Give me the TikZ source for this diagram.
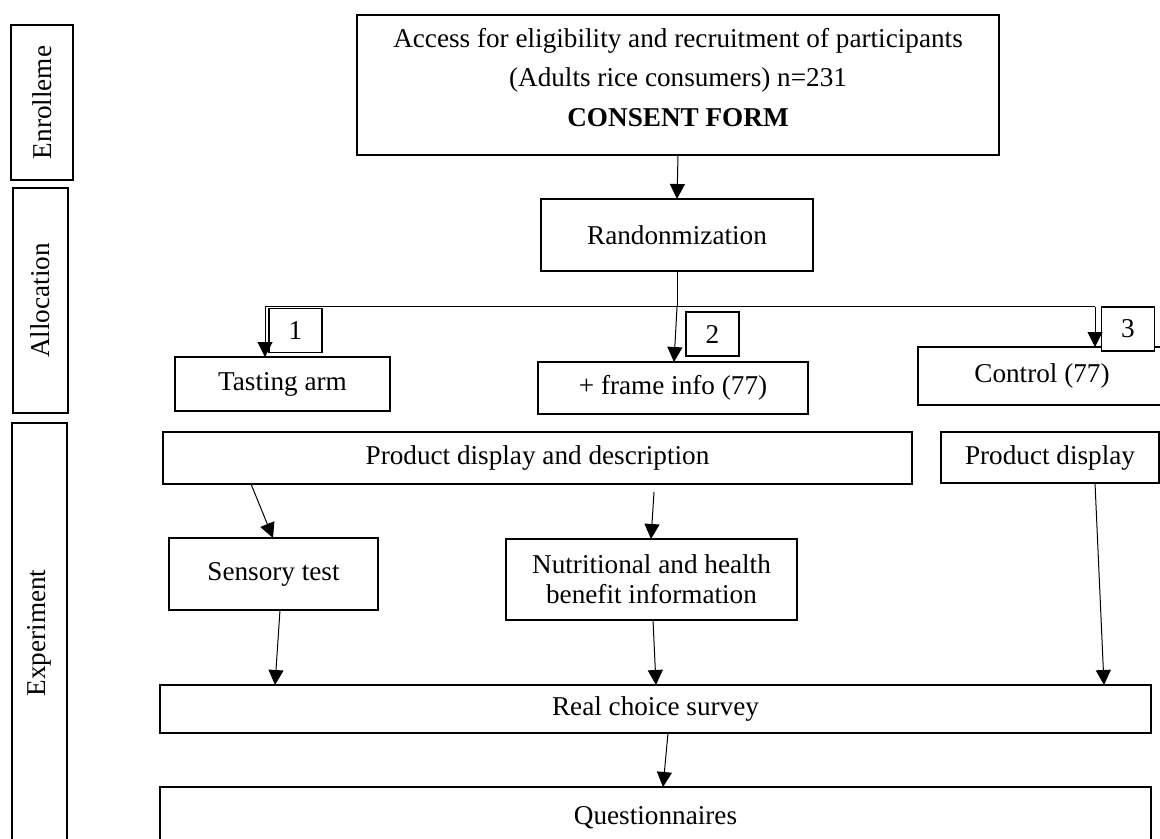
\documentclass[tikz,border=0pt]{standalone}
\usepackage{fontspec}
\setmainfont{Liberation Serif}
\usetikzlibrary{arrows.meta,calc}
\begin{document}
\begin{tikzpicture}[x=0.5pt,y=-0.5pt,
  every node/.style={font=\fontsize{13.6}{15}\selectfont, inner sep=0pt, outer sep=0pt},
  box/.style={draw, line width=1.2pt, align=center},
  numbox/.style={draw, fill=white, line width=0.65pt, minimum width=26.5pt, minimum height=22pt},
  side/.style={draw, line width=1.1pt, rotate=90},
  arr/.style={line width=0.5pt, -{Triangle[length=7.5pt,width=7.5pt]}},
  conn/.style={line width=0.5pt}]
\clip (0,0) rectangle (1160,839);
\fill[white] (0,0) rectangle (1160,839);

% phase labels
\node[side, minimum width=77.5pt, minimum height=31pt] (enr) at (42,102.5) {Enrolleme};
\node[side, minimum width=112.5pt, minimum height=27.5pt] (alo) at (40.5,300.5) {Allocation};
\node[side, minimum width=210pt, minimum height=27.5pt] (exp) at (39.5,633) {Experiment};

% enrolment
\node[box, line width=1.3pt, minimum width=321pt, minimum height=70pt] (top) at (678,85) {};
\node (t1) at (678,41) {Access for eligibility and recruitment of participants};
\node (t2) at (678,80) {(Adults rice consumers) n=231};
\node[font=\fontsize{13.6}{15}\selectfont\bfseries] (t3) at (678,118) {CONSENT FORM};

% allocation
\node[box, minimum width=136pt, minimum height=36pt] (rand) at (677,235) {Randonmization};
\node[box, minimum width=107.5pt, minimum height=27pt] (tast) at (282.5,384) {Tasting arm};
\node[box, minimum width=135pt, minimum height=26pt] (frame) at (673,388) {+ frame info (77)};
\node[box, minimum width=124pt, minimum height=29pt] (ctrl) at (1042,376) {Control (77)};
\node[numbox] (n1) at (295.5,330.5) {1};
\node[numbox] (n2) at (712.5,334) {2};
\node[numbox] (n3) at (1128,329) {3};

\coordinate (split) at (677,307);
\coordinate (L) at (265,307);
\coordinate (R) at (1095,307);

\draw[arr] (top.south) -- (rand.north);
\draw[conn] (rand.south) -- (split);
\draw[conn] (L) -- (R);
\draw[arr] (L) -- (L |- tast.north);
\draw[arr] (split) -- ($(frame.north west)+(136,0)$);
\draw[arr] (R) -- (R |- ctrl.north);

% experiment
\node[box, line width=1pt, minimum width=374.5pt, minimum height=26pt] (pdd) at (537.5,458) {Product display and description};
\node[box, line width=1pt, minimum width=109pt, minimum height=25.5pt] (pd) at (1050,457.5) {Product display};
\node[box, minimum width=104.5pt, minimum height=36pt] (sens) at (273.5,574) {Sensory test};
\node[box, minimum width=145.5pt, minimum height=40.5pt] (nutr) at (651.5,579.5) {Nutritional and health\\benefit information};
\node[box, line width=1pt, minimum width=495.5pt, minimum height=24pt] (real) at (655.5,709) {\raisebox{-2pt}{Real choice survey}};
\node[box, line width=1pt, minimum width=495.5pt, minimum height=31pt] (quest) at (655.5,818) {Questionnaires};

\draw[arr] ($(pdd.south west)+(88,0)$) -- ($(sens.north west)+(104,0)$);
\draw[arr] ($(pdd.south west)+(491,8)$) -- ($(nutr.north west)+(145,0)$);
\draw[arr] ($(sens.south west)+(111,0)$) -- ($(real.north west)+(115,0)$);
\draw[arr] ($(nutr.south west)+(147,0)$) -- ($(real.north west)+(496,0)$);
\draw[arr] ($(pd.south west)+(154,0)$) -- ($(real.north west)+(944,0)$);
\draw[arr] ($(real.south west)+(508,0)$) -- ($(quest.north west)+(503,0)$);
\end{tikzpicture}
\end{document}
